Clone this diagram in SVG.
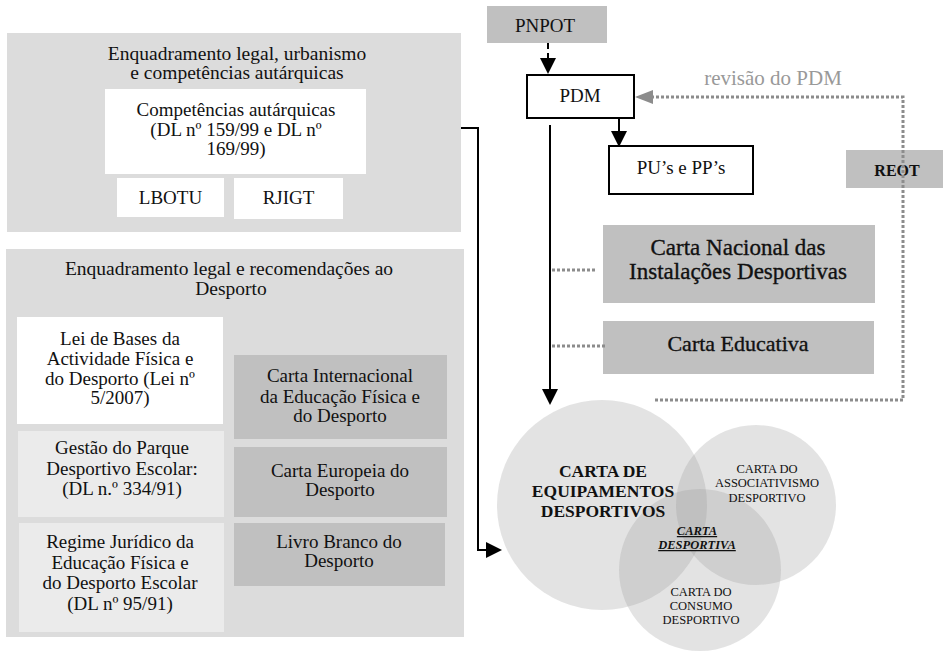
<svg xmlns="http://www.w3.org/2000/svg" width="945" height="651" viewBox="0 0 945 651">
<style>
text{font-family:"Liberation Serif","DejaVu Serif","Noto Serif",serif;fill:#111;text-anchor:middle}
.b19{font-size:19px}
.t20{font-size:19.5px}
.outer{fill:#dcdcdc}
.white{fill:#ffffff}
.light{fill:#ebebeb}
.dark{fill:#c0c0c0}
.framed{fill:#ffffff;stroke:#000;stroke-width:2}
.big{font-size:23px;stroke:#111;stroke-width:0.35}
.circ{fill:#999;fill-opacity:0.28}
.cap{font-size:12.5px}
.conn{fill:none;stroke:#000;stroke-width:2}
.dot{fill:none;stroke:#8c8c8c;stroke-width:3;stroke-dasharray:3 2}
</style>
<defs>
<marker id="ab" markerUnits="userSpaceOnUse" markerWidth="16" markerHeight="16" refX="14" refY="8" orient="auto"><path d="M0,0 L16,8 L0,16 z" fill="#000"/></marker>
<marker id="ag" markerUnits="userSpaceOnUse" markerWidth="18" markerHeight="14" refX="16" refY="7" orient="auto"><path d="M0,0 L18,7 L0,14 z" fill="#8c8c8c"/></marker>
</defs>
<rect width="945" height="651" fill="#fff"/>

<g id="urbanismo">
<rect class="outer" x="7" y="33" width="454" height="199"/>
<text class="t20" x="237" y="60">Enquadramento legal, urbanismo</text>
<text class="t20" x="237" y="79">e competências autárquicas</text>
</g>
<g id="competencias">
<rect class="white" x="105" y="89" width="261" height="85"/>
<text class="b19" x="236" y="116">Competências autárquicas</text>
<text class="b19" x="236" y="136">(DL nº 159/99 e DL nº</text>
<text class="b19" x="236" y="155">169/99)</text>
</g>
<g id="lbotu">
<rect class="white" x="117" y="178" width="107" height="39"/>
<text class="b19" x="170.5" y="204">LBOTU</text>
</g>
<g id="rjigt">
<rect class="white" x="234" y="178" width="109" height="41"/>
<text class="b19" x="288.5" y="204">RJIGT</text>
</g>

<g id="desporto">
<rect class="outer" x="6" y="249" width="458" height="388"/>
<text class="t20" x="229" y="275">Enquadramento legal e recomendações ao</text>
<text class="t20" x="231" y="295">Desporto</text>
</g>
<g id="lei-bases">
<rect class="white" x="17" y="317" width="206" height="107"/>
<text class="b19" x="120" y="345">Lei de Bases da</text>
<text class="b19" x="120" y="365">Actividade Física e</text>
<text class="b19" x="120" y="385">do Desporto (Lei nº</text>
<text class="b19" x="120" y="404">5/2007)</text>
</g>
<g id="gestao">
<rect class="light" x="18" y="431" width="206" height="86"/>
<text class="b19" x="122" y="454">Gestão do Parque</text>
<text class="b19" x="122" y="475">Desportivo Escolar:</text>
<text class="b19" x="122" y="495">(DL n.º 334/91)</text>
</g>
<g id="regime">
<rect class="light" x="19" y="523" width="205" height="109"/>
<text class="b19" x="120" y="548">Regime Jurídico da</text>
<text class="b19" x="120" y="569">Educação Física e</text>
<text class="b19" x="120" y="589">do Desporto Escolar</text>
<text class="b19" x="120" y="610">(DL nº 95/91)</text>
</g>
<g id="carta-internacional">
<rect class="dark" x="234" y="355" width="213" height="84"/>
<text class="b19" x="340" y="382">Carta Internacional</text>
<text class="b19" x="340" y="403">da Educação Física e</text>
<text class="b19" x="340" y="422">do Desporto</text>
</g>
<g id="carta-europeia">
<rect class="dark" x="234" y="447" width="213" height="70"/>
<text class="b19" x="340" y="477">Carta Europeia do</text>
<text class="b19" x="340" y="496">Desporto</text>
</g>
<g id="livro-branco">
<rect class="dark" x="234" y="523" width="211" height="63"/>
<text class="b19" x="339" y="548">Livro Branco do</text>
<text class="b19" x="339" y="567">Desporto</text>
</g>

<g id="pnpot">
<rect class="dark" x="487" y="6" width="120" height="37"/>
<text class="b19" x="545" y="32">PNPOT</text>
</g>
<g id="pdm">
<rect class="framed" x="527" y="75" width="107" height="43"/>
<text class="b19" x="580" y="102">PDM</text>
</g>
<g id="pus-pps">
<rect class="framed" x="609" y="146" width="144" height="48"/>
<text class="b19" x="681" y="174">PU’s e PP’s</text>
</g>
<g id="reot">
<rect class="dark" x="846" y="150" width="97" height="38"/>
<text x="897" y="176" style="font-size:16px;font-weight:bold">REOT</text>
</g>
<g id="carta-nacional">
<rect class="dark" x="603" y="225" width="272" height="78"/>
<text class="big" x="738" y="255">Carta Nacional das</text>
<text class="big" x="738" y="279">Instalações Desportivas</text>
</g>
<g id="carta-educativa">
<rect class="dark" x="603" y="321" width="271" height="53"/>
<text class="big" x="738" y="351" style="font-size:22px">Carta Educativa</text>
</g>

<g id="connectors">
<path class="conn" d="M548,43 V72" stroke-dasharray="6 4" marker-end="url(#ab)"/>
<path class="conn" d="M619,118 V145" marker-end="url(#ab)"/>
<path class="conn" d="M550,125 V403" marker-end="url(#ab)"/>
<path class="conn" d="M461,128 H478 V550 H500" marker-end="url(#ab)"/>
<path class="dot" d="M655,400 H903 V97 H652"/>
<path d="M652,97 H637" fill="none" stroke="#8c8c8c" stroke-width="1" marker-end="url(#ag)"/>
<path class="dot" d="M552,270 H595"/>
<path class="dot" d="M552,346 H607"/>
</g>
<g id="revisao-label">
<text x="773" y="85" style="font-size:21px;fill:#999">revisão do PDM</text>
</g>

<g id="carta-equipamentos">
<circle class="circ" cx="602" cy="505" r="105"/>
</g>
<g id="carta-associativismo">
<circle class="circ" cx="756" cy="505" r="80"/>
</g>
<g id="carta-consumo">
<circle class="circ" cx="700" cy="570" r="81"/>
</g>
<g id="circle-labels">
<text x="603" y="477" style="font-size:17.5px;font-weight:bold">CARTA DE</text>
<text x="603" y="497" style="font-size:17.5px;font-weight:bold">EQUIPAMENTOS</text>
<text x="603" y="517" style="font-size:17.5px;font-weight:bold">DESPORTIVOS</text>
<text class="cap" x="767" y="473">CARTA DO</text>
<text class="cap" x="767" y="487">ASSOCIATIVISMO</text>
<text class="cap" x="767" y="502">DESPORTIVO</text>
<text class="cap" x="701" y="596">CARTA DO</text>
<text class="cap" x="701" y="610">CONSUMO</text>
<text class="cap" x="701" y="624">DESPORTIVO</text>
<text x="697" y="535" style="font-size:12.5px;font-weight:bold;font-style:italic;text-decoration:underline">CARTA</text>
<text x="697" y="549" style="font-size:12.5px;font-weight:bold;font-style:italic;text-decoration:underline">DESPORTIVA</text>
</g>
</svg>
